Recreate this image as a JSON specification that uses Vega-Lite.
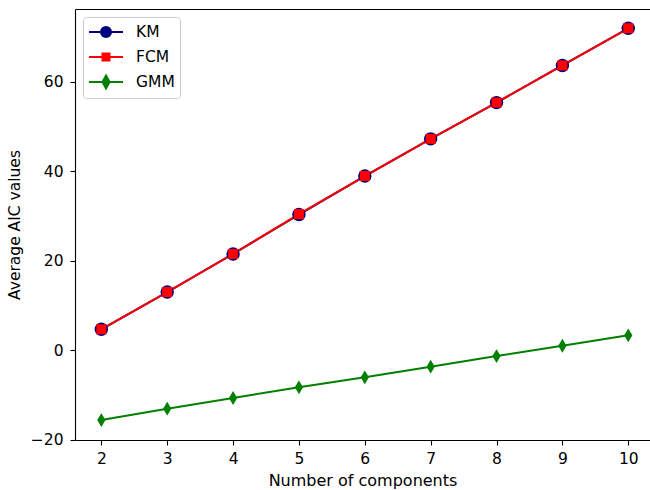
{
  "$schema": "https://vega.github.io/schema/vega-lite/v6.json",
  "width": 575,
  "height": 431,
  "autosize": {"type": "none"},
  "padding": {"left": 75, "top": 9, "right": 0, "bottom": 50},
  "config": {
    "view": {"stroke": null},
    "font": "DejaVu Sans",
    "axis": {
      "domainColor": "#000000",
      "domainWidth": 1.1,
      "tickColor": "#000000",
      "tickWidth": 1.1,
      "tickSize": 5,
      "labelColor": "#000000",
      "labelFont": "DejaVu Sans",
      "labelFontSize": 15.5,
      "titleColor": "#000000",
      "titleFont": "DejaVu Sans",
      "titleFontSize": 15.5,
      "titleFontWeight": "normal",
      "grid": false,
      "labelFlush": false,
      "labelOverlap": false
    },
    "legend": {
      "labelFont": "DejaVu Sans",
      "labelFontSize": 15.5,
      "labelColor": "#000000"
    }
  },
  "data": {
    "values": [
      {"components": 2, "aic": 4.67, "method": "KM"},
      {"components": 3, "aic": 13.0, "method": "KM"},
      {"components": 4, "aic": 21.5, "method": "KM"},
      {"components": 5, "aic": 30.3, "method": "KM"},
      {"components": 6, "aic": 38.9, "method": "KM"},
      {"components": 7, "aic": 47.2, "method": "KM"},
      {"components": 8, "aic": 55.3, "method": "KM"},
      {"components": 9, "aic": 63.6, "method": "KM"},
      {"components": 10, "aic": 71.9, "method": "KM"},
      {"components": 2, "aic": 4.67, "method": "FCM"},
      {"components": 3, "aic": 13.0, "method": "FCM"},
      {"components": 4, "aic": 21.5, "method": "FCM"},
      {"components": 5, "aic": 30.4, "method": "FCM"},
      {"components": 6, "aic": 38.9, "method": "FCM"},
      {"components": 7, "aic": 47.2, "method": "FCM"},
      {"components": 8, "aic": 55.3, "method": "FCM"},
      {"components": 9, "aic": 63.6, "method": "FCM"},
      {"components": 10, "aic": 71.9, "method": "FCM"},
      {"components": 2, "aic": -15.6, "method": "GMM"},
      {"components": 3, "aic": -13.06, "method": "GMM"},
      {"components": 4, "aic": -10.67, "method": "GMM"},
      {"components": 5, "aic": -8.28, "method": "GMM"},
      {"components": 6, "aic": -6.05, "method": "GMM"},
      {"components": 7, "aic": -3.68, "method": "GMM"},
      {"components": 8, "aic": -1.3, "method": "GMM"},
      {"components": 9, "aic": 1.0, "method": "GMM"},
      {"components": 10, "aic": 3.33, "method": "GMM"}
    ]
  },
  "layer": [
    {
      "mark": {"type": "line", "strokeWidth": 2},
      "encoding": {
        "x": {
          "field": "components", "type": "quantitative",
          "scale": {"domain": [1.6, 10.33], "nice": false, "zero": false},
          "axis": {"orient": "top", "domain": true, "ticks": false, "labels": false, "title": null}
        },
        "y": {
          "field": "aic", "type": "quantitative",
          "scale": {"domain": [-20.05, 76.2], "nice": false, "zero": false},
          "axis": {"values": [-20, 0, 20, 40, 60], "title": "Average AIC values", "labelPadding": 7, "titlePadding": 8}
        },
        "stroke": {
          "field": "method", "type": "nominal",
          "scale": {"domain": ["GMM", "FCM", "KM"], "range": ["#008000", "#ff0000", "#000080"]},
          "legend": null
        }
      }
    },
    {
      "mark": {"type": "point", "filled": true, "opacity": 1},
      "encoding": {
        "x": {
          "field": "components", "type": "quantitative",
          "scale": {"domain": [1.6, 10.33], "nice": false, "zero": false},
          "axis": {"values": [2, 3, 4, 5, 6, 7, 8, 9, 10], "title": "Number of components", "titleFontSize": 16, "labelPadding": 6, "titlePadding": 6}
        },
        "y": {"field": "aic", "type": "quantitative"},
        "color": {
          "field": "method", "type": "nominal",
          "scale": {"domain": ["KM", "FCM", "GMM"], "range": ["#000080", "#ff0000", "#008000"]},
          "legend": {
            "title": null,
            "orient": "top-left",
            "offset": 8,
            "padding": 5,
            "fillColor": "#ffffff",
            "strokeColor": "#cccccc",
            "cornerRadius": 3,
            "symbolSize": 324,
            "labelOffset": 28,
            "rowPadding": 5,
            "symbolOpacity": 1,
            "encode": {
              "symbols": {
                "update": {
                  "shape": [
                    {"test": "datum.value === 'KM'", "value": "M-1,0H2.78M0.33,0A0.56,0.56 0 1,1 1.45,0A0.56,0.56 0 1,1 0.33,0Z"},
                    {"test": "datum.value === 'FCM'", "value": "M-1,0H2.78M0.5,-0.39H1.28V0.39H0.5Z"},
                    {"value": "M-1,0H2.78M0.89,-0.72L1.28,0L0.89,0.72L0.5,0Z"}
                  ],
                  "stroke": [
                    {"test": "datum.value === 'KM'", "value": "#000080"},
                    {"test": "datum.value === 'FCM'", "value": "#ff0000"},
                    {"value": "#008000"}
                  ],
                  "strokeWidth": {"value": 2},
                  "opacity": {"value": 1}
                }
              }
            }
          }
        },
        "shape": {
          "field": "method", "type": "nominal",
          "scale": {"domain": ["FCM", "GMM", "KM"], "range": ["square", "M0,-1L0.6,0L0,1L-0.6,0Z", "circle"]},
          "legend": null
        },
        "size": {
          "field": "method", "type": "nominal",
          "scale": {"type": "ordinal", "domain": ["GMM", "KM", "FCM"], "range": [190, 180, 100]},
          "legend": null
        }
      }
    }
  ],
  "resolve": {"axis": {"x": "independent"}}
}
